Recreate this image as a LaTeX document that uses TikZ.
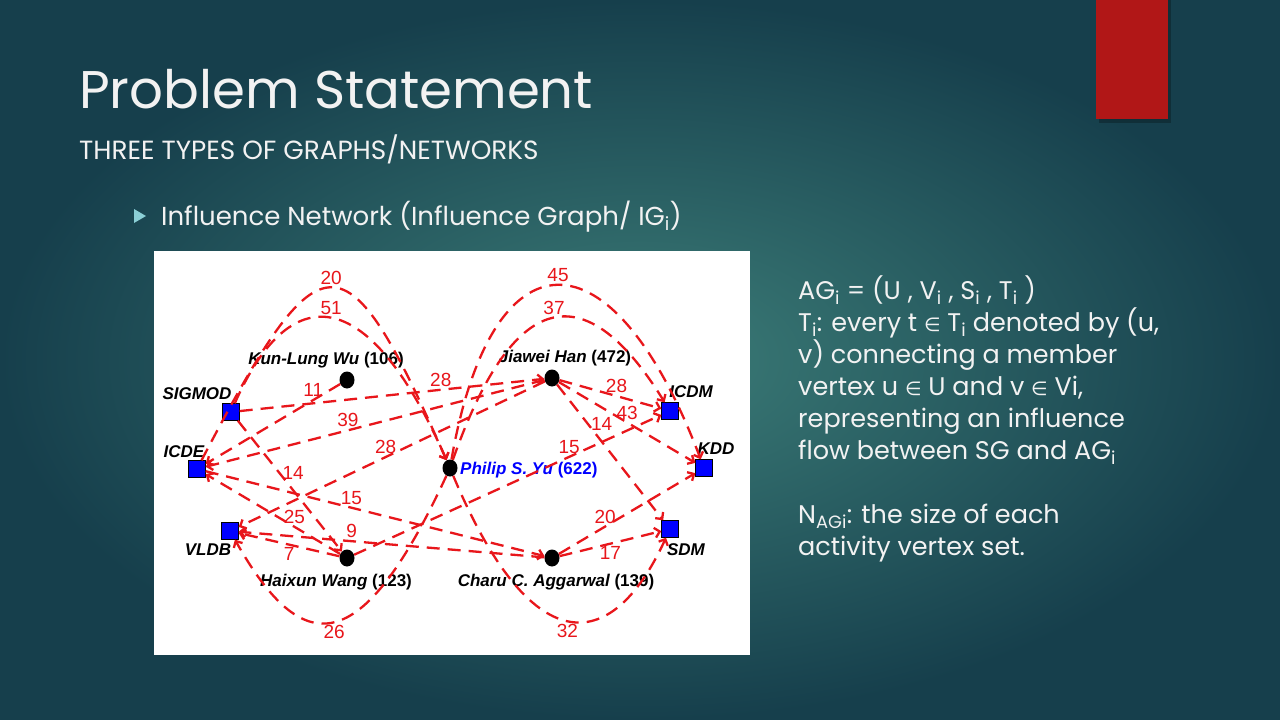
\documentclass[tikz,border=0pt]{standalone}
\usepackage{fontspec}
\setmainfont{Poppins}
\newfontfamily\graphfont{Liberation Sans}
\newfontfamily\symfont{DejaVu Sans}
\usetikzlibrary{shapes,positioning,arrows.meta}
\definecolor{slidedark}{HTML}{163F4C}
\definecolor{slidelight}{HTML}{3C7D78}
\definecolor{flowred}{HTML}{E8161B}
\definecolor{venueblue}{HTML}{0000FF}
\definecolor{accentred}{HTML}{B11717}
\definecolor{bulletteal}{HTML}{8BCFD6}
\definecolor{slidetext}{HTML}{F2F2F2}
\tikzset{venue/.style={rectangle,draw=black,fill=venueblue,minimum size=17pt,inner sep=0pt,line width=0.4pt},
  author/.style={ellipse,fill=black,minimum width=15pt,minimum height=17pt,inner sep=0pt},
  flow/.style={draw=flowred,line width=2.3pt,dash pattern=on 13pt off 8pt,-{Straight Barb[length=5pt,width=10pt]}},
  num/.style={text=flowred,font=\graphfont\fontsize{19}{19}\selectfont,inner sep=2pt},
  vlbl/.style={font=\graphfont\bfseries\itshape\fontsize{17}{17}\selectfont,inner sep=0pt},
  albl/.style={font=\graphfont\bfseries\fontsize{17}{17}\selectfont,inner sep=0pt}}

\begin{document}
\begin{tikzpicture}[x=1pt,y=-1pt]
        \useasboundingbox (0,0) rectangle (1280,720);
        \shade[inner color=slidelight,outer color=slidedark] (0,0) rectangle (1280,720);
        \fill[black,opacity=0.25] (1099,0) rectangle (1171,123);
        \fill[accentred] (1096,0) rectangle (1168,119);

        % titles
        \node[anchor=base west,inner sep=0,text=slidetext,font=\fontsize{53}{53}\selectfont] (title) at (79,108) {Problem Statement};
        \node[anchor=base west,inner sep=0,text=slidetext,font=\fontsize{26.3}{26.3}\selectfont] (subtitle) at (79,159) {THREE TYPES OF GRAPHS/NETWORKS};
        \fill[bulletteal] (134,209) -- (146,216) -- (134,223) -- cycle;
        \node[anchor=base west,inner sep=0,text=slidetext,font=\fontsize{26}{26}\selectfont] (bullet) at (161,225) {Influence Network (Influence Graph/ IG\textsubscript{i})};

        % graph panel
        \fill[white] (154,251) rectangle (750,655);

        \node[venue] (sigmod) at (231,412) {};
        \node[venue] (icde) at (197,469) {};
        \node[venue] (vldb) at (230,531) {};
        \node[venue] (icdm) at (670,411) {};
        \node[venue] (kdd) at (704,468) {};
        \node[venue] (sdm) at (670,529) {};
        \node[author] (kw) at (347,380) {};
        \node[author] (jh) at (552,378) {};
        \node[author] (py) at (450,468) {};
        \node[author] (hw) at (347,558) {};
        \node[author] (ca) at (552,558) {};

        \node[vlbl] (sigmodlbl) at (197,394) {SIGMOD};
        \node[vlbl] (icdelbl) at (184,452) {ICDE};
        \node[vlbl] (vldblbl) at (208,550) {VLDB};
        \node[vlbl] (icdmlbl) at (691,392) {ICDM};
        \node[vlbl] (kddlbl) at (716,449) {KDD};
        \node[vlbl] (sdmlbl) at (686,550) {SDM};
        \node[albl] (kwlbl) at (326,360) {\itshape Kun-Lung Wu \upshape(106)};
        \node[albl] (jhlbl) at (565,358) {\itshape Jiawei Han \upshape(472)};
        \node[albl,anchor=west,text=venueblue] (pylbl) at (460,470) {\itshape Philip S. Yu \upshape(622)};
        \node[albl] (hwlbl) at (336,582) {\itshape Haixun Wang \upshape(123)};
        \node[albl] (calbl) at (556,582) {\itshape Charu C. Aggarwal \upshape(139)};

        % big arcs through Philip S. Yu
        \draw[flow] (icde) .. controls (322,230) and (345,230) .. node[num,above]{20} (py);
        \draw[flow] (sigmod) .. controls (289,280) and (367,280) .. node[num,above]{51} (py);
        \draw[flow] (py) .. controls (492,228) and (612,226) .. node[num,above]{45} (kdd);
        \draw[flow] (py) .. controls (516,280) and (589,280) .. node[num,above]{37} (icdm);
        \draw[flow] (py) .. controls (361,660) and (303,660) .. node[num,below]{26} (vldb);
        \draw[flow] (py) .. controls (530,659) and (610,659) .. node[num,below]{32} (sdm);

        % straight flows
        \draw[flow] (kw) to node[num,pos=0.2,above]{11} (icde);
        \draw[flow] (sigmod) to node[num,pos=0.66,above]{28} (jh);
        \draw[flow] (sigmod) to node[num,pos=0.4,right]{14} (hw);
        \draw[flow] (jh) to node[num,pos=0.58,above]{39} (icde);
        \draw[flow] (jh) to node[num,pos=0.52,above]{28} (vldb);
        \draw[flow] (icde) to node[num,pos=0.43,above]{15} (ca);
        \draw[flow] (hw) to node[num,pos=0.34,above]{25} (icde);
        \draw[flow] (hw) to node[num,pos=0.5,below]{7} (vldb);
        \draw[flow] (ca) to node[num,pos=0.63,above]{9} (vldb);
        \draw[flow] (hw) to node[num,pos=0.7,above]{15} (icdm);
        \draw[flow] (jh) to node[num,pos=0.56,above]{28} (icdm);
        \draw[flow] (jh) to node[num,pos=0.5,above]{43} (kdd);
        \draw[flow] (jh) to node[num,pos=0.29,right]{14} (sdm);
        \draw[flow] (ca) to node[num,pos=0.34,above]{20} (kdd);
        \draw[flow] (ca) to node[num,pos=0.5,below]{17} (sdm);

        % notes
        \node[anchor=north west,inner sep=0,align=left,text=slidetext,font=\fontsize{25.5}{32}\selectfont] (notes) at (798,275)
          {AG\textsubscript{i} = (U , V\textsubscript{i} , S\textsubscript{i} , T\textsubscript{i} )\\
           T\textsubscript{i}: every t {\symfont\fontsize{19}{32}\selectfont∈} T\textsubscript{i} denoted by (u,\\
           v) connecting a member\\
           vertex u {\symfont\fontsize{19}{32}\selectfont∈} U and v {\symfont\fontsize{19}{32}\selectfont∈} Vi,\\
           representing an influence\\
           flow between SG and AG\textsubscript{i}\\[32pt]
           N\textsubscript{AGi}: the size of each\\
           activity vertex set.};
    \end{tikzpicture}
\end{document}
